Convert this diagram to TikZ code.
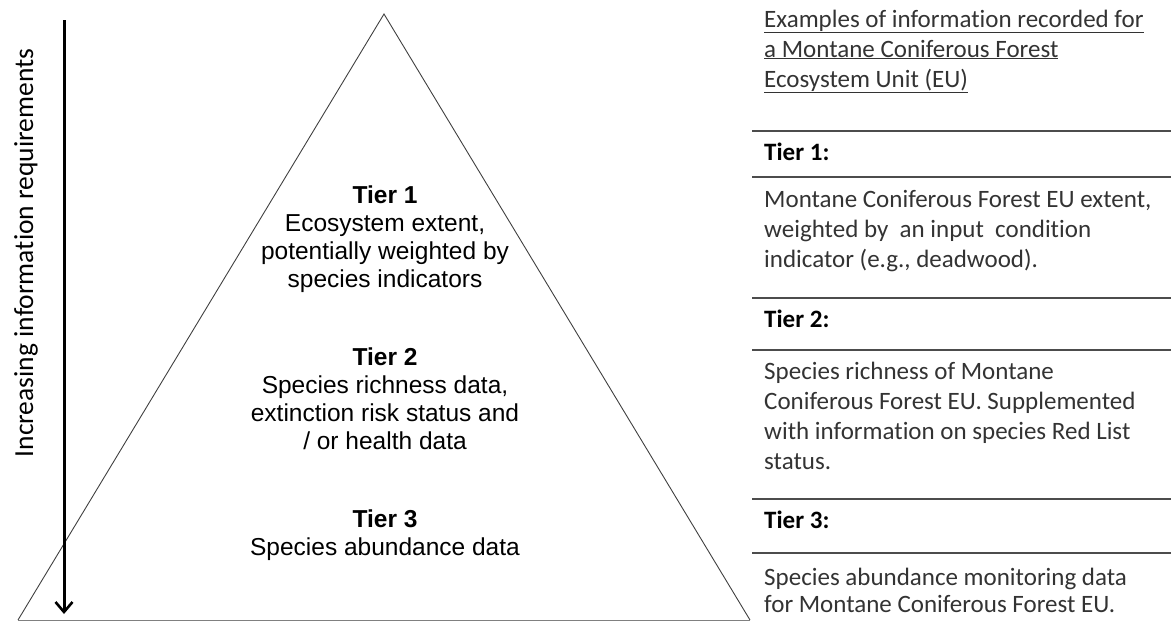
\documentclass[tikz,border=0pt]{standalone}
\usepackage{fontspec}
\setmainfont{Carlito}[Ligatures=NoCommon]
\newfontfamily\arialfont{Liberation Sans}
\usetikzlibrary{arrows.meta}

\tikzset{
  tiertext/.style={font=\arialfont\fontsize{24.5}{28}\selectfont, align=center, inner sep=0pt, anchor=base},
  colhead/.style={font=\fontsize{25}{30}\selectfont, text=black!80, align=left, inner sep=0pt, anchor=base west},
  coltier/.style={font=\bfseries\fontsize{25}{30}\selectfont, inner sep=0pt, anchor=base west},
  coltext/.style={font=\fontsize{25}{30}\selectfont, text=black!80, align=left, inner sep=0pt, anchor=base west},
  rowrule/.style={draw=black!70, line width=1.4pt},
  infoarrow/.style={line width=3pt, -{Straight Barb[length=10pt, width=17pt, line width=2.6pt]}}
}

\begin{document}
\begin{tikzpicture}[x=1pt, y=-1pt]
\useasboundingbox (0,0) rectangle (1171,621);

% pyramid
\coordinate (apex) at (384,14);
\coordinate (baseL) at (18,620);
\coordinate (baseR) at (750,620);
\draw[black!75, line width=0.9pt] (baseL) -- (apex) -- (baseR);
\draw[black!50, line width=0.9pt] (baseL) -- (baseR);

% base anchor = last line
\node[tiertext] (tier1) at (385,287) {\textbf{Tier 1}\\Ecosystem extent,\\potentially weighted by\\species indicators};
\node[tiertext] (tier2) at (385,449) {\textbf{Tier 2}\\Species richness data,\\extinction risk status and\\/ or health data};
\node[tiertext] (tier3) at (385,555) {\textbf{Tier 3}\\Species abundance data};

% arrow and its label
\coordinate (arrtop) at (64,20);
\coordinate (arrbot) at (64,614);
\draw[infoarrow] (arrtop) -- (arrbot);
\node[rotate=90, inner sep=0pt, font=\fontsize{27.5}{30}\selectfont] (inclabel) at (26,253) {Increasing information requirements};

% examples column
\node[colhead] (colhdr) at (764,87) {\underline{Examples of information recorded for}\\\underline{a Montane Coniferous Forest}\\\underline{Ecosystem Unit (EU)}};

\foreach \y in {131,177,298,350,499,553}
  \draw[rowrule] (752,\y) -- (1171,\y);

\node[coltier] (ex1h) at (764,160) {Tier 1:};
\node[coltext] (ex1) at (764,267) {Montane Coniferous Forest EU extent,\\weighted by~ an input~ condition\\indicator (e.g., deadwood).};
\node[coltier] (ex2h) at (764,327) {Tier 2:};
\node[coltext] (ex2) at (764,469) {Species richness of Montane\\Coniferous Forest EU. Supplemented\\with information on species Red List\\status.};
\node[coltier] (ex3h) at (764,528) {Tier 3:};
\node[coltext, font=\fontsize{25}{27}\selectfont] (ex3) at (764,612) {Species abundance monitoring data\\for Montane Coniferous Forest EU.};
\end{tikzpicture}
\end{document}
